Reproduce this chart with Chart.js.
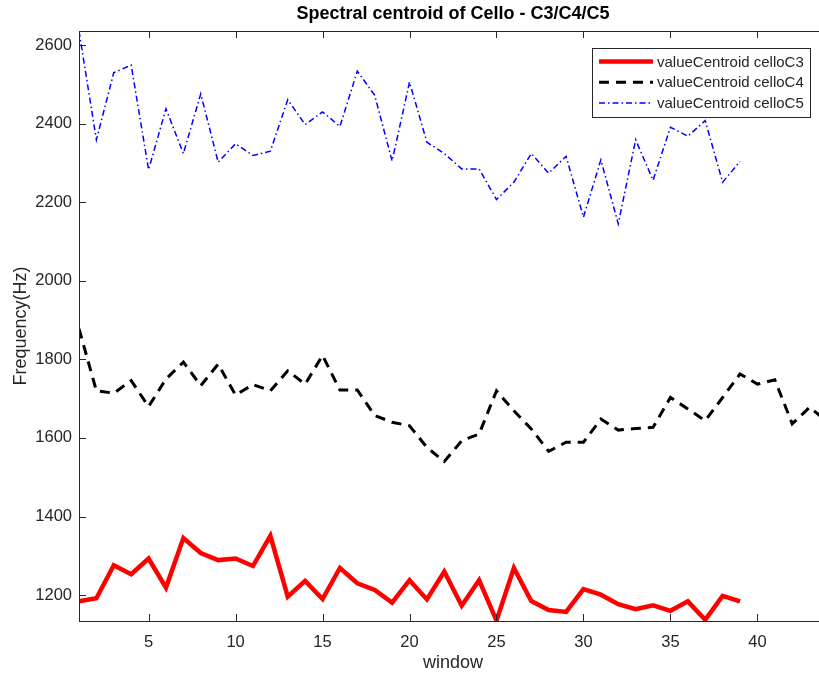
<!DOCTYPE html>
<html>
<head>
<meta charset="utf-8">
<script src="https://cdn.jsdelivr.net/npm/chart.js@4.4.1/dist/chart.umd.min.js"></script>
<style>
  html, body { margin: 0; padding: 0; background: #fff; }
  body { width: 819px; height: 675px; overflow: hidden; }
  #wrap { width: 860px; height: 675px; position: relative; }
</style>
</head>
<body>
<div id="wrap"><canvas id="centroidChart"></canvas></div>
<script>
// window index (x axis)
const windows = [1, 2, 3, 4, 5, 6, 7, 8, 9, 10, 11, 12, 13, 14, 15, 16, 17, 18, 19, 20,
  21, 22, 23, 24, 25, 26, 27, 28, 29, 30, 31, 32, 33, 34, 35, 36, 37, 38, 39, 40, 41, 42, 43, 44];

// spectral centroid values (Hz)
const celloC3 = [1184, 1192, 1276, 1253, 1293, 1219, 1345, 1307, 1289, 1293, 1274, 1351, 1196, 1236, 1190,
  1269, 1230, 1213, 1181, 1238, 1189, 1260, 1173, 1238, 1135, 1269, 1185, 1162, 1157, 1215, 1201, 1177,
  1164, 1174, 1160, 1184, 1137, 1198, 1184];
const celloC4 = [1878, 1720, 1714, 1746, 1680, 1750, 1793, 1733, 1788, 1709, 1736, 1720, 1771, 1737, 1810,
  1722, 1722, 1657, 1640, 1631, 1576, 1540, 1593, 1610, 1720, 1669, 1623, 1566, 1589, 1589, 1648, 1620,
  1624, 1627, 1703, 1674, 1644, 1703, 1763, 1737, 1748, 1636, 1678, 1642];
const celloC5 = [2636, 2359, 2530, 2549, 2283, 2438, 2324, 2476, 2302, 2349, 2319, 2330, 2461, 2398, 2430,
  2393, 2534, 2472, 2305, 2506, 2353, 2324, 2285, 2285, 2207, 2251, 2324, 2274, 2317, 2162, 2308, 2145,
  2359, 2256, 2391, 2368, 2408, 2251, 2304];

const xTicks = [5, 10, 15, 20, 25, 30, 35, 40];
const yTicks = [1200, 1400, 1600, 1800, 2000, 2200, 2400, 2600];

const axisColor = "#262626";
const fontFam = "'Liberation Sans', Arial, Helvetica, sans-serif";

// matlab-ish frame: box, inward ticks on all sides, title and legend inside the axes
const matlabFrame = {
  id: "matlabFrame",
  afterDatasetsDraw(chart) {
    const { ctx, chartArea: a, scales } = chart;
    const tl = 7;
    ctx.save();
    ctx.strokeStyle = axisColor;
    ctx.lineWidth = 1;
    ctx.setLineDash([]);
    ctx.strokeRect(Math.round(a.left) + 0.5, Math.round(a.top) + 0.5,
      Math.round(a.right - a.left), Math.round(a.bottom - a.top));

    ctx.beginPath();
    scales.x.ticks.forEach((t) => {
      const px = Math.round(scales.x.getPixelForValue(t.value)) + 0.5;
      ctx.moveTo(px, a.bottom); ctx.lineTo(px, a.bottom - tl);
      ctx.moveTo(px, a.top); ctx.lineTo(px, a.top + tl);
    });
    scales.y.ticks.forEach((t) => {
      const py = Math.round(scales.y.getPixelForValue(t.value)) + 0.5;
      ctx.moveTo(a.left, py); ctx.lineTo(a.left + tl, py);
      ctx.moveTo(a.right, py); ctx.lineTo(a.right - tl, py);
    });
    ctx.stroke();

    // title
    ctx.fillStyle = "#000";
    ctx.font = "bold 18px " + fontFam;
    ctx.textAlign = "center";
    ctx.textBaseline = "middle";
    ctx.fillText("Spectral centroid of Cello - C3/C4/C5", (a.left + a.right) / 2, 14);

    // legend box
    const bw = 218, bh = 69;
    const bx = a.right - 17 - bw, by = a.top + 17;
    ctx.fillStyle = "#fff";
    ctx.fillRect(bx, by, bw, bh);
    ctx.strokeStyle = axisColor;
    ctx.lineWidth = 1;
    ctx.strokeRect(Math.round(bx) + 0.5, Math.round(by) + 0.5, bw, bh);

    ctx.font = "15px " + fontFam;
    ctx.textAlign = "left";
    chart.data.datasets.forEach((ds, i) => {
      const ry = by + 13.5 + i * 20.8;
      ctx.beginPath();
      ctx.strokeStyle = ds.borderColor;
      ctx.lineWidth = ds.borderWidth;
      ctx.setLineDash(ds.borderDash || []);
      ctx.moveTo(bx + 7, ry); ctx.lineTo(bx + 61, ry);
      ctx.stroke();
      ctx.setLineDash([]);
      ctx.fillStyle = axisColor;
      ctx.fillText(ds.label, bx + 65, ry + 1);
    });
    ctx.restore();
  },
};

const ctx = document.getElementById("centroidChart").getContext("2d");

new Chart(ctx, {
  type: "line",
  data: {
    labels: windows,
    datasets: [
      {
        label: "valueCentroid celloC3",
        data: celloC3,
        borderColor: "#ff0000",
        borderWidth: 4.5,
        pointRadius: 0,
        tension: 0,
      },
      {
        label: "valueCentroid celloC4",
        data: celloC4,
        borderColor: "#000000",
        borderWidth: 3,
        borderDash: [10, 7],
        pointRadius: 0,
        tension: 0,
      },
      {
        label: "valueCentroid celloC5",
        data: celloC5,
        borderColor: "#0000ff",
        borderWidth: 1.5,
        borderDash: [6, 3, 1.5, 3],
        pointRadius: 0,
        tension: 0,
      },
    ],
  },
  options: {
    responsive: true,
    maintainAspectRatio: false,
    animation: false,
    layout: { padding: { top: 31, right: 33, left: 0, bottom: 0 } },
    scales: {
      x: {
        type: "linear",
        min: 1,
        max: 44,
        afterBuildTicks: (s) => { s.ticks = xTicks.map((v) => ({ value: v })); },
        afterFit: (s) => { s.height = 54; },
        grid: { display: false, drawTicks: false },
        border: { display: false },
        ticks: {
          color: axisColor,
          padding: 12,
          maxRotation: 0,
          autoSkip: false,
          callback: (v) => String(v),
          font: { family: fontFam, size: 16.5 },
        },
        title: {
          display: true,
          text: "window",
          color: axisColor,
          padding: { top: 0, bottom: 1 },
          font: { family: fontFam, size: 18 },
        },
      },
      y: {
        min: 1134,
        max: 2636,
        afterBuildTicks: (s) => { s.ticks = yTicks.map((v) => ({ value: v })); },
        afterFit: (s) => { s.width = 79; },
        grid: { display: false, drawTicks: false },
        border: { display: false },
        ticks: {
          color: axisColor,
          padding: 7,
          autoSkip: false,
          callback: (v) => String(v),
          font: { family: fontFam, size: 16.5 },
        },
        title: {
          display: true,
          text: "Frequency(Hz)",
          color: axisColor,
          padding: { top: 10, bottom: 0 },
          font: { family: fontFam, size: 18 },
        },
      },
    },
    plugins: {
      legend: { display: false },
      tooltip: { enabled: false },
    },
  },
  plugins: [matlabFrame],
});
</script>
</body>
</html>
